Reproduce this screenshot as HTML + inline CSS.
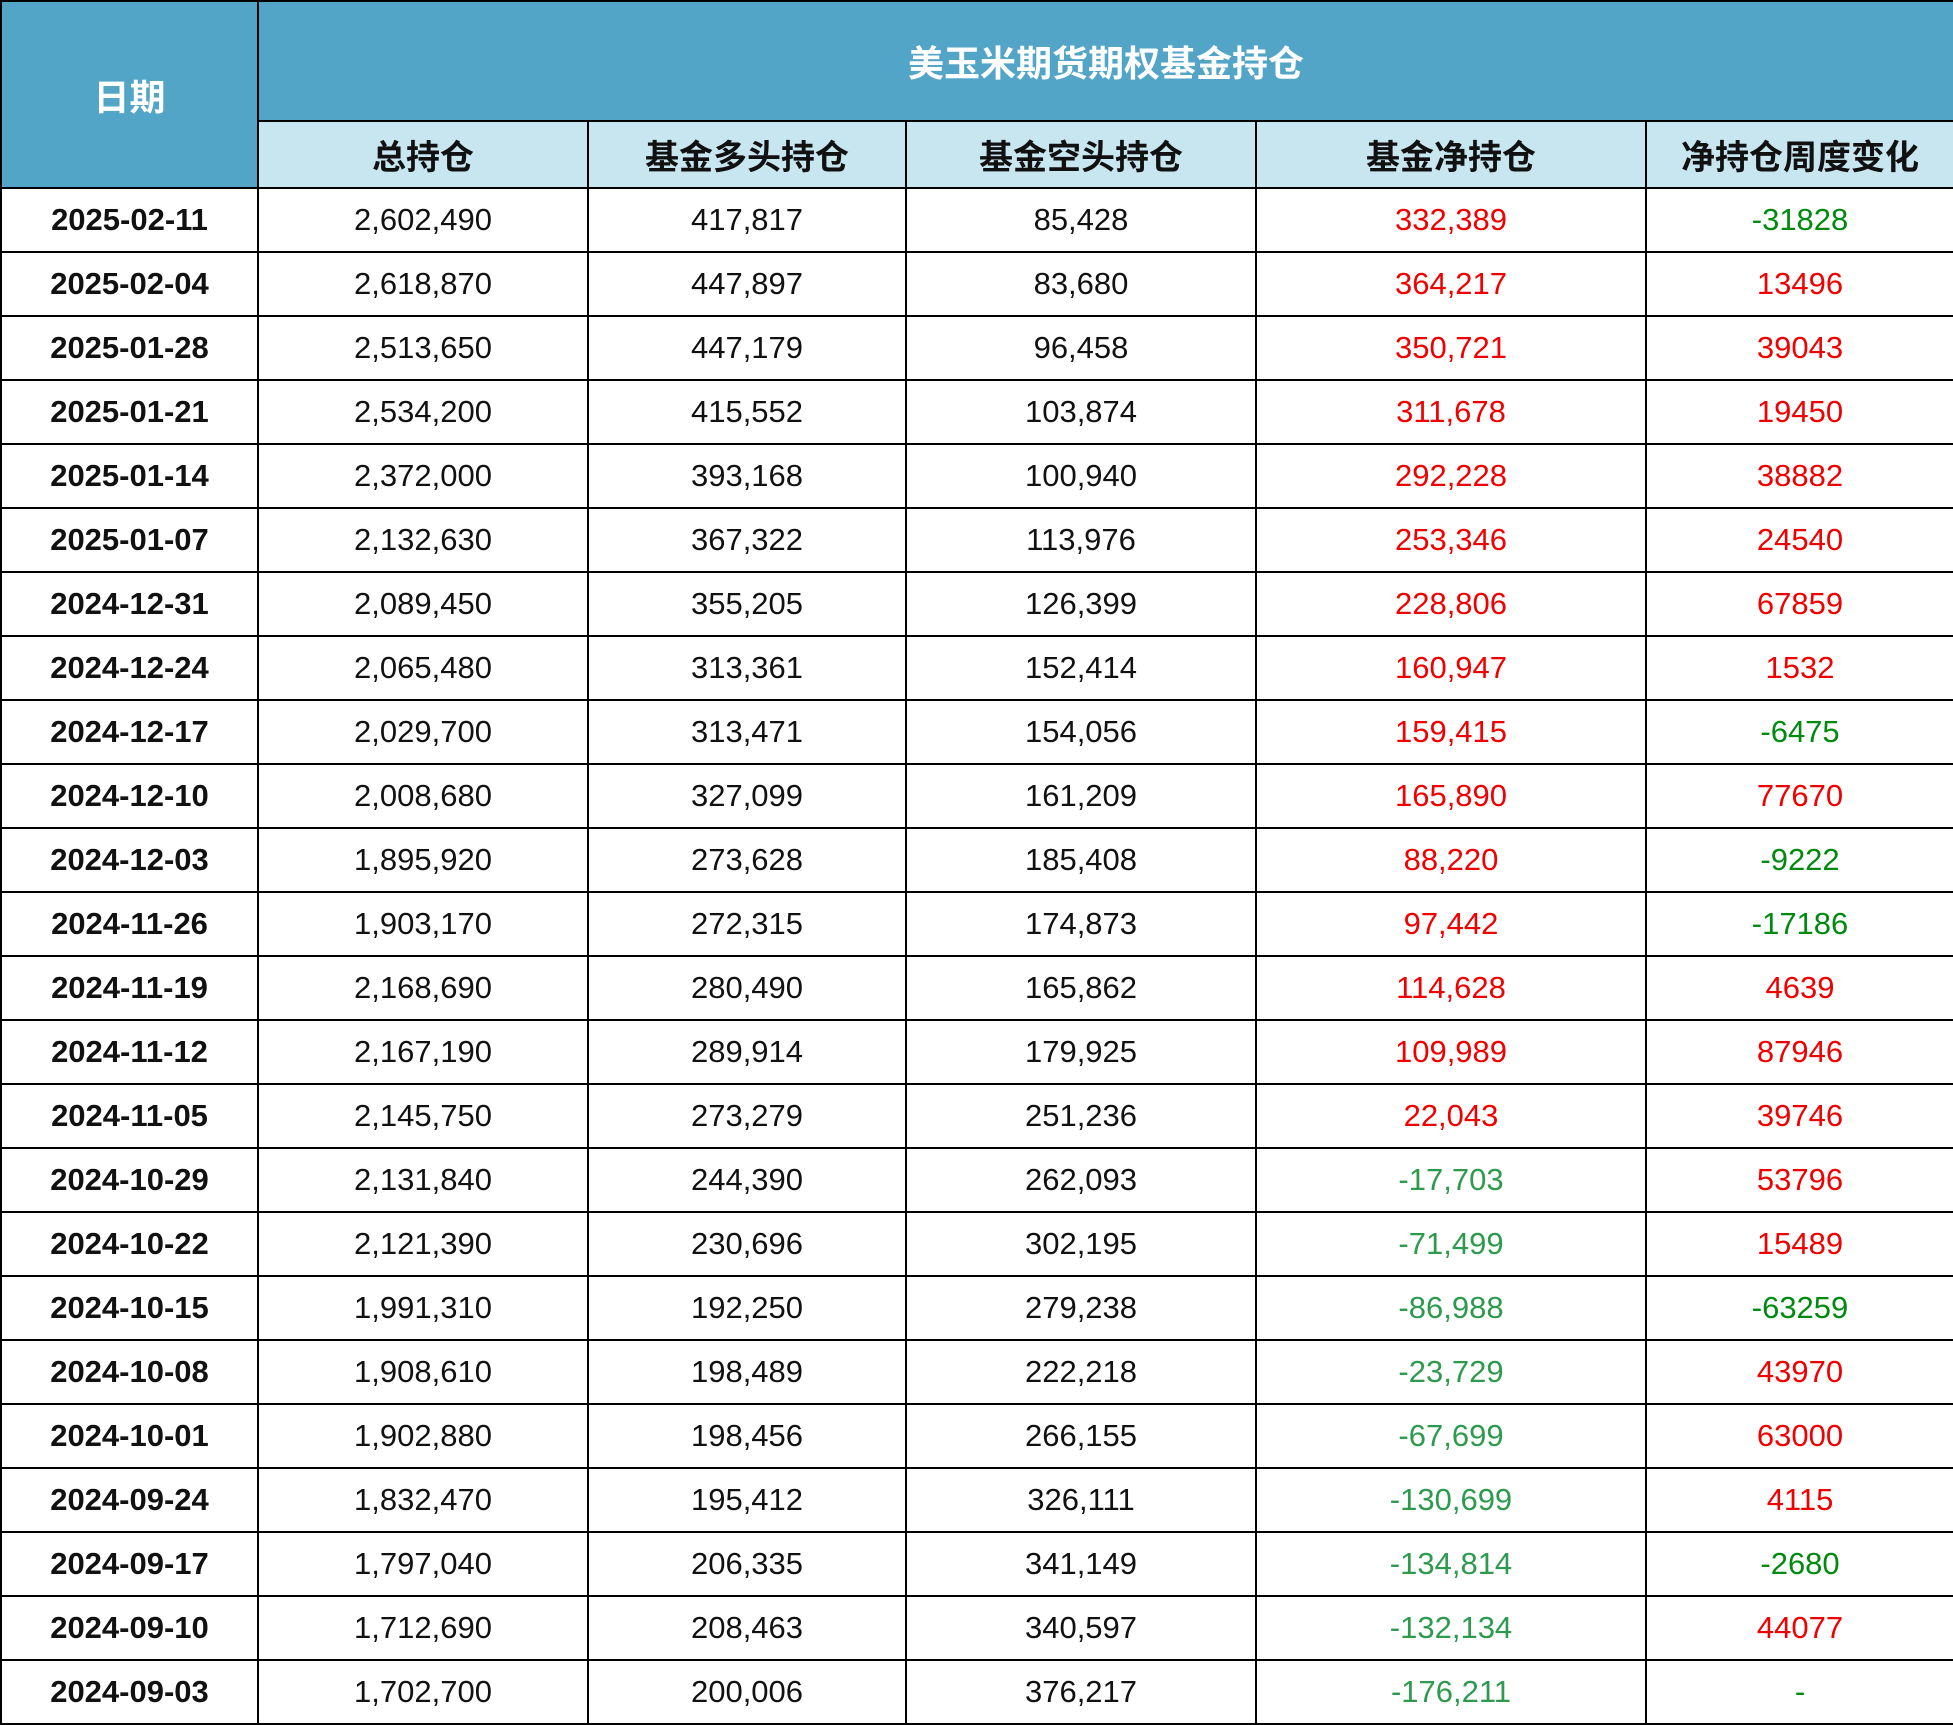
<!DOCTYPE html>
<html><head><meta charset="utf-8"><style>
html,body{margin:0;padding:0;background:#fff;}
table{border-collapse:collapse;table-layout:fixed;width:1953px;font-family:"Liberation Sans","Noto Sans CJK SC",sans-serif;}
td,th{border:2px solid #000;text-align:center;padding:0;font-size:31px;color:#111;}
th{font-weight:bold;}
.t1{background:#52a5c6;color:#fff;font-size:36px;height:118px;}
.t2{background:#c8e6f0;color:#111;font-size:34px;height:65px;}
tr.d td{height:62px;}
td.dt{font-weight:bold;}
.r{color:#f00000;}
.g{color:#2e9a4e;}
.g2{color:#008a10;}
</style></head><body>
<table>
<colgroup><col style="width:257px"><col style="width:330px"><col style="width:318px"><col style="width:350px"><col style="width:390px"><col style="width:308px"></colgroup>
<tr><th class="t1" rowspan="2">日期</th><th class="t1" colspan="5">美玉米期货期权基金持仓</th></tr>
<tr><th class="t2">总持仓</th><th class="t2">基金多头持仓</th><th class="t2">基金空头持仓</th><th class="t2">基金净持仓</th><th class="t2">净持仓周度变化</th></tr>
<tr class="d"><td class="dt">2025-02-11</td><td>2,602,490</td><td>417,817</td><td>85,428</td><td class="r">332,389</td><td class="g2">-31828</td></tr>
<tr class="d"><td class="dt">2025-02-04</td><td>2,618,870</td><td>447,897</td><td>83,680</td><td class="r">364,217</td><td class="r">13496</td></tr>
<tr class="d"><td class="dt">2025-01-28</td><td>2,513,650</td><td>447,179</td><td>96,458</td><td class="r">350,721</td><td class="r">39043</td></tr>
<tr class="d"><td class="dt">2025-01-21</td><td>2,534,200</td><td>415,552</td><td>103,874</td><td class="r">311,678</td><td class="r">19450</td></tr>
<tr class="d"><td class="dt">2025-01-14</td><td>2,372,000</td><td>393,168</td><td>100,940</td><td class="r">292,228</td><td class="r">38882</td></tr>
<tr class="d"><td class="dt">2025-01-07</td><td>2,132,630</td><td>367,322</td><td>113,976</td><td class="r">253,346</td><td class="r">24540</td></tr>
<tr class="d"><td class="dt">2024-12-31</td><td>2,089,450</td><td>355,205</td><td>126,399</td><td class="r">228,806</td><td class="r">67859</td></tr>
<tr class="d"><td class="dt">2024-12-24</td><td>2,065,480</td><td>313,361</td><td>152,414</td><td class="r">160,947</td><td class="r">1532</td></tr>
<tr class="d"><td class="dt">2024-12-17</td><td>2,029,700</td><td>313,471</td><td>154,056</td><td class="r">159,415</td><td class="g2">-6475</td></tr>
<tr class="d"><td class="dt">2024-12-10</td><td>2,008,680</td><td>327,099</td><td>161,209</td><td class="r">165,890</td><td class="r">77670</td></tr>
<tr class="d"><td class="dt">2024-12-03</td><td>1,895,920</td><td>273,628</td><td>185,408</td><td class="r">88,220</td><td class="g2">-9222</td></tr>
<tr class="d"><td class="dt">2024-11-26</td><td>1,903,170</td><td>272,315</td><td>174,873</td><td class="r">97,442</td><td class="g2">-17186</td></tr>
<tr class="d"><td class="dt">2024-11-19</td><td>2,168,690</td><td>280,490</td><td>165,862</td><td class="r">114,628</td><td class="r">4639</td></tr>
<tr class="d"><td class="dt">2024-11-12</td><td>2,167,190</td><td>289,914</td><td>179,925</td><td class="r">109,989</td><td class="r">87946</td></tr>
<tr class="d"><td class="dt">2024-11-05</td><td>2,145,750</td><td>273,279</td><td>251,236</td><td class="r">22,043</td><td class="r">39746</td></tr>
<tr class="d"><td class="dt">2024-10-29</td><td>2,131,840</td><td>244,390</td><td>262,093</td><td class="g">-17,703</td><td class="r">53796</td></tr>
<tr class="d"><td class="dt">2024-10-22</td><td>2,121,390</td><td>230,696</td><td>302,195</td><td class="g">-71,499</td><td class="r">15489</td></tr>
<tr class="d"><td class="dt">2024-10-15</td><td>1,991,310</td><td>192,250</td><td>279,238</td><td class="g">-86,988</td><td class="g2">-63259</td></tr>
<tr class="d"><td class="dt">2024-10-08</td><td>1,908,610</td><td>198,489</td><td>222,218</td><td class="g">-23,729</td><td class="r">43970</td></tr>
<tr class="d"><td class="dt">2024-10-01</td><td>1,902,880</td><td>198,456</td><td>266,155</td><td class="g">-67,699</td><td class="r">63000</td></tr>
<tr class="d"><td class="dt">2024-09-24</td><td>1,832,470</td><td>195,412</td><td>326,111</td><td class="g">-130,699</td><td class="r">4115</td></tr>
<tr class="d"><td class="dt">2024-09-17</td><td>1,797,040</td><td>206,335</td><td>341,149</td><td class="g">-134,814</td><td class="g2">-2680</td></tr>
<tr class="d"><td class="dt">2024-09-10</td><td>1,712,690</td><td>208,463</td><td>340,597</td><td class="g">-132,134</td><td class="r">44077</td></tr>
<tr class="d"><td class="dt">2024-09-03</td><td>1,702,700</td><td>200,006</td><td>376,217</td><td class="g">-176,211</td><td class="g2">-</td></tr>
</table>
</body></html>
